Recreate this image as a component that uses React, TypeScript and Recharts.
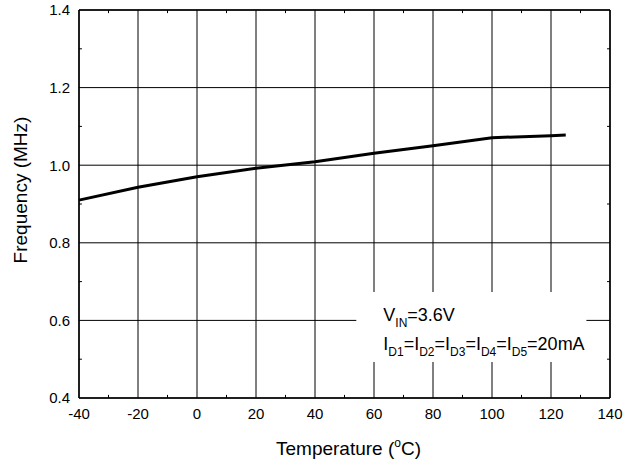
import React from "react";
import {
  LineChart,
  Line,
  XAxis,
  YAxis,
  CartesianGrid,
  ReferenceLine,
  ReferenceArea,
} from "recharts";

// Temperature (°C) vs oscillator frequency (MHz)
const temperatures = [-40, -20, 0, 20, 40, 60, 80, 100, 120, 125];
const frequencies = [0.91, 0.943, 0.97, 0.992, 1.009, 1.031, 1.05, 1.071, 1.076, 1.078];

const xTicks = [-40, -20, 0, 20, 40, 60, 80, 100, 120, 140];
const yTicks = [0.4, 0.6, 0.8, 1.0, 1.2, 1.4];
const xMinorTicks = [-30, -10, 10, 30, 50, 70, 90, 110, 130];
const yMinorTicks = [0.5, 0.7, 0.9, 1.1, 1.3];

const data = temperatures.map((t, i) => ({ t, f: frequencies[i] }));

const FONT = "'Liberation Sans', Arial, Helvetica, sans-serif";
const X_MIN = -40;
const X_MAX = 140;
const Y_MIN = 0.4;
const Y_MAX = 1.4;

function Annotation({ viewBox }: any) {
  if (!viewBox) return null;
  const x = viewBox.x + 27;
  const y1 = viewBox.y + 29;
  const y2 = viewBox.y + 58;
  const subs = ["D1", "D2", "D3", "D4", "D5"];
  return (
    <g fontFamily={FONT} fill="#000">
      <text x={x} y={y1} fontSize={18}>
        V
        <tspan fontSize={12} dy={6}>IN</tspan>
        <tspan dy={-6}>=3.6V</tspan>
      </text>
      <text x={x} y={y2} fontSize={18}>
        {subs.map((s, i) => (
          <React.Fragment key={s}>
            <tspan dy={i === 0 ? 0 : -6}>{i === 0 ? "I" : "=I"}</tspan>
            <tspan fontSize={12} dy={6}>{s}</tspan>
          </React.Fragment>
        ))}
        <tspan dy={-6}>=20mA</tspan>
      </text>
    </g>
  );
}

function XLabel({ viewBox }: any) {
  if (!viewBox) return null;
  const cx = viewBox.x + viewBox.width / 2 + 4;
  return (
    <text x={cx} y={viewBox.y + 57} textAnchor="middle" fontSize={19} fontFamily={FONT} fill="#000">
      Temperature (
      <tspan fontSize={12} dy={-8}>o</tspan>
      <tspan dy={8}>C)</tspan>
    </text>
  );
}

function YLabel({ viewBox }: any) {
  if (!viewBox) return null;
  const x = 27;
  const cy = viewBox.y + viewBox.height / 2 - 14;
  return (
    <text
      x={x}
      y={cy}
      textAnchor="middle"
      fontSize={19}
      fontFamily={FONT}
      fill="#000"
      transform={`rotate(-90, ${x}, ${cy})`}
    >
      Frequency (MHz)
    </text>
  );
}

export default function App() {
  const tickStyle = { fill: "#000", fontSize: 15, fontFamily: FONT };
  return (
    <div style={{ position: "absolute", left: 0, top: 0, background: "#fff" }}>
      <LineChart
        width={634}
        height={466}
        data={data}
        margin={{ top: 10, right: 24, left: 0, bottom: 0 }}
      >
        <CartesianGrid stroke="#000" strokeWidth={1} horizontalValues={yTicks} verticalValues={xTicks} />
        <XAxis
          dataKey="t"
          type="number"
          domain={[X_MIN, X_MAX]}
          ticks={xTicks}
          interval={0}
          height={68}
          tickLine={false}
          tickMargin={4}
          axisLine={{ stroke: "#000", strokeWidth: 1.5 }}
          tick={tickStyle}
          label={<XLabel />}
        />
        <YAxis
          type="number"
          domain={[Y_MIN, Y_MAX]}
          ticks={yTicks}
          interval={0}
          width={79}
          tickLine={false}
          tickMargin={3}
          tickFormatter={(v: number) => v.toFixed(1)}
          axisLine={{ stroke: "#000", strokeWidth: 1.5 }}
          tick={tickStyle}
          label={<YLabel />}
        />
        <ReferenceLine y={Y_MAX} stroke="#000" strokeWidth={1.5} />
        <ReferenceLine x={X_MAX} stroke="#000" strokeWidth={1.5} />
        {xMinorTicks.map((t) => (
          <ReferenceLine
            key={`xb${t}`}
            segment={[{ x: t, y: Y_MIN }, { x: t, y: Y_MIN + 0.008 }]}
            stroke="#000"
          />
        ))}
        {xMinorTicks.map((t) => (
          <ReferenceLine
            key={`xt${t}`}
            segment={[{ x: t, y: Y_MAX }, { x: t, y: Y_MAX - 0.008 }]}
            stroke="#000"
          />
        ))}
        {yMinorTicks.map((v) => (
          <ReferenceLine
            key={`yl${v}`}
            segment={[{ x: X_MIN, y: v }, { x: X_MIN + 1, y: v }]}
            stroke="#000"
          />
        ))}
        {yMinorTicks.map((v) => (
          <ReferenceLine
            key={`yr${v}`}
            segment={[{ x: X_MAX, y: v }, { x: X_MAX - 1, y: v }]}
            stroke="#000"
          />
        ))}
        <ReferenceArea
          x1={54}
          x2={132}
          y1={0.493}
          y2={0.673}
          fill="#fff"
          fillOpacity={1}
          stroke="none"
          label={<Annotation />}
        />
        <Line
          type="linear"
          dataKey="f"
          stroke="#000"
          strokeWidth={3}
          dot={false}
          isAnimationActive={false}
        />
      </LineChart>
    </div>
  );
}
